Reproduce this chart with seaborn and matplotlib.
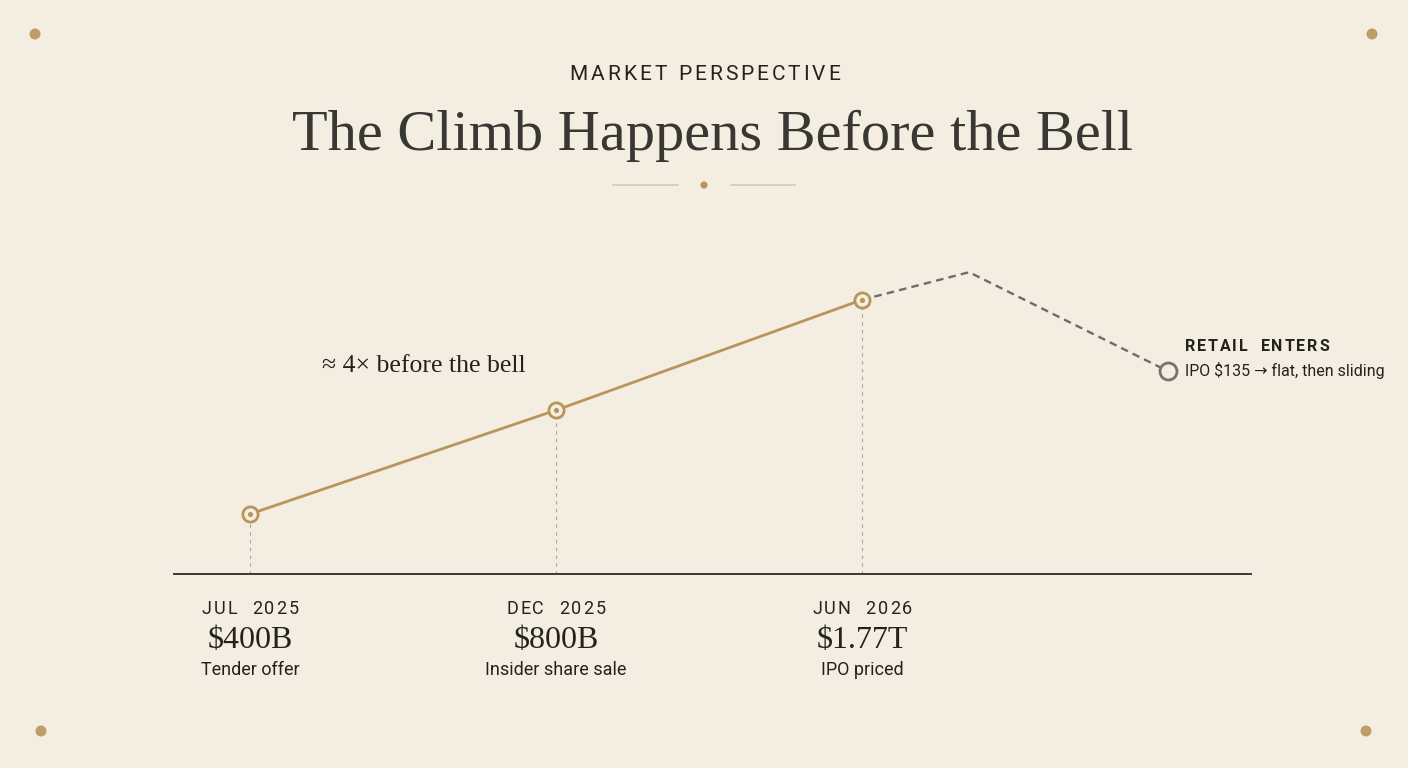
import matplotlib
matplotlib.use("Agg")
import matplotlib.pyplot as plt
import seaborn as sns
import pandas as pd
from matplotlib.patches import Circle
from matplotlib.font_manager import FontProperties, findfont
from matplotlib.ft2font import FT2Font

# Dados
periodos = ["JUL 2025", "DEC 2025", "JUN 2026"]
valores = ["$400B", "$800B", "$1.77T"]
eventos = ["Tender offer", "Insider share sale", "IPO priced"]
pos_x = [0, 1, 2]
nivel = [1.0, 2.73, 4.57]          # altura relativa no grafico
pos_x_pos_ipo = [2, 2.35, 3]
nivel_pos_ipo = [4.57, 5.03, 3.38]

titulo = "The Climb Happens Before the Bell"
sobretitulo = "MARKET PERSPECTIVE"
nota = "\u2248 4\u00d7 before the bell"
varejo_titulo = "RETAIL ENTERS"
varejo_texto = "IPO $135 \u2192 flat, then sliding"

# Estilo
FUNDO = "#f3eee1"
OURO = "#b8955a"
CINZA = "#6e6c66"
TEXTO = "#23221f"
SANS = ["Roboto", "DejaVu Sans"]
SERIF = ["Liberation Serif", "DejaVu Serif"]

sns.set_theme(style="white")
plt.rcParams["font.family"] = SANS

W, H = 1408, 768
fig = plt.figure(figsize=(W / 100, H / 100), dpi=100, facecolor=FUNDO)

# camada de decoracao em pixels
deco = fig.add_axes([0, 0, 1, 1], zorder=0)
deco.set_xlim(0, W)
deco.set_ylim(H, 0)
deco.axis("off")
deco.patch.set_alpha(0)

ax = fig.add_axes([174 / W, (H - 574) / H, (1251 - 174) / W, (574 - 200) / H], zorder=1)
ax.patch.set_alpha(0)
ax.set_xlim((174 - 250) / 306, (1251 - 250) / 306)
ax.set_ylim(0, 374 / 60)


def avancos(texto, tamanho, peso="normal"):
    # avanco horizontal de cada caractere, em pixels (dpi 100)
    fonte = FT2Font(findfont(FontProperties(family="Roboto", weight=peso)))
    fonte.set_size(tamanho, 100)
    return [fonte.load_char(ord(c)).linearHoriAdvance / 65536 for c in texto]


def texto_espacado(x, y, texto, espaco, tamanho, ha="center", peso="normal", **kw):
    adv = avancos(texto, tamanho, peso)
    total = sum(adv) + espaco * (len(texto) - 1)
    x0 = x - total / 2 if ha == "center" else x
    pos = x0
    for c, a in zip(texto, adv):
        if c != " ":
            deco.text(pos, y, c, ha="left", va="baseline", fontsize=tamanho,
                      fontweight=peso, family=SANS, **kw)
        pos += a + espaco


# Linha principal e pos-IPO
df = pd.DataFrame({"x": pos_x, "nivel": nivel})
df_pos = pd.DataFrame({"x": pos_x_pos_ipo, "nivel": nivel_pos_ipo})
sns.lineplot(data=df, x="x", y="nivel", ax=ax, color=OURO, linewidth=2.0, zorder=3)
ax.plot(df_pos["x"], df_pos["nivel"], color=CINZA, linewidth=1.7,
        linestyle=(0, (3.2, 2.2)), zorder=2)

# linhas verticais pontilhadas
for x, y in zip(pos_x, nivel):
    ax.plot([x, x], [0, y], color="#aaa69b", linewidth=0.8,
            linestyle=(0, (3, 4)), zorder=1)

sns.scatterplot(data=df, x="x", y="nivel", ax=ax, s=120, color=FUNDO,
                edgecolor=OURO, linewidth=2.0, zorder=4)
sns.scatterplot(data=df, x="x", y="nivel", ax=ax, s=14, color=OURO,
                edgecolor=OURO, linewidth=0, zorder=5)
sns.scatterplot(x=[pos_x_pos_ipo[-1]], y=[nivel_pos_ipo[-1]], ax=ax, s=150,
                color=FUNDO, edgecolor="#75736d", linewidth=2.0, zorder=4)

ax.set_xlabel("")
ax.set_ylabel("")
ax.set_xticks([])
ax.set_yticks([])
for lado in ["top", "left", "right"]:
    ax.spines[lado].set_visible(False)
ax.spines["bottom"].set_color("#3b3a36")
ax.spines["bottom"].set_linewidth(1.4)

# Cabecalho
texto_espacado(W / 2 + 1, 80, sobretitulo, 3.0, 15, color=TEXTO)
deco.text(712, 150, titulo, ha="center", va="baseline", fontsize=42,
          color="#383733", family=SERIF)
deco.plot([613, 678], [185, 185], color="#d2c9b6", linewidth=1.2)
deco.plot([731, 795], [185, 185], color="#d2c9b6", linewidth=1.2)
deco.add_patch(Circle((704, 185), 3.6, color=OURO, lw=0))

# pontos nos cantos
for cx, cy in [(35, 34), (1372, 34), (41, 731), (1366, 731)]:
    deco.add_patch(Circle((cx, cy), 5.5, color=OURO, lw=0, alpha=0.9))

# Rotulos sob o eixo
for x, p, v, e in zip(pos_x, periodos, valores, eventos):
    px = ax.transData.transform((x, 0))[0]
    texto_espacado(px, 614, p.replace(" ", "  "), 2.0, 13, color=TEXTO)
    deco.text(px, 648, v, ha="center", va="baseline", fontsize=23, color=TEXTO, family=SERIF)
    deco.text(px, 675, e, ha="center", va="baseline", fontsize=13, color=TEXTO, family=SANS)

# Anotacoes
deco.text(322, 372, nota, ha="left", va="baseline", fontsize=18.5, color=TEXTO, family=SERIF)
fx = ax.transData.transform((pos_x_pos_ipo[-1], 0))[0]
texto_espacado(fx + 17, 351, varejo_titulo.replace(" ", "  "), 1.8, 11.5, ha="left",
               peso="bold", color=TEXTO)
deco.text(fx + 17, 376, varejo_texto, ha="left", va="baseline", fontsize=11.5,
          color=TEXTO, family=SANS)

fig.savefig("out.png", dpi=100, facecolor=FUNDO)
